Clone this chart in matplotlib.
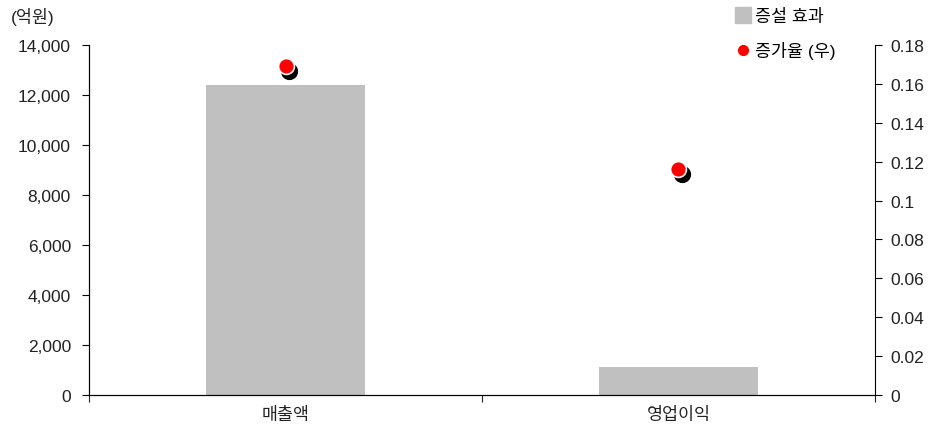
import numpy as np
import matplotlib.pyplot as plt
from matplotlib.lines import Line2D
from matplotlib.ticker import FuncFormatter

plt.rcParams['font.family'] = ['Liberation Sans', 'Noto Sans CJK KR', 'DejaVu Sans']

categories = ['매출액', '영업이익']
effect = [12400, 1130]          # 증설 효과 (억원)
growth = [0.169, 0.116]         # 증가율 (우)

fig = plt.figure(figsize=(9.39, 4.35), dpi=100)
ax = fig.add_axes([0.0948, 0.0897, 0.837, 0.8046])
x = np.arange(len(categories))

ax.bar(x, effect, width=0.405, color='#c0c0c0', zorder=2)
ax.set_xlim(-0.5, 1.5)
ax.set_ylim(0, 14000)
ax.set_yticks(np.arange(0, 14001, 2000))
ax.yaxis.set_major_formatter(FuncFormatter(lambda v, p: f'{int(v):,}'))
ax.set_xticks([-0.5, 0.5, 1.5])
ax.set_xticklabels([])
ax.set_xticks(x, minor=True)
ax.set_xticklabels(categories, minor=True)
ax.tick_params(axis='x', which='minor', length=0, pad=8, labelsize=12.5, colors='#222222')
ax.tick_params(axis='x', which='major', length=5, direction='out', color='#222222')
ax.tick_params(axis='y', length=5, direction='out', labelsize=12.5, labelcolor='#222222', pad=8)
ax.spines['top'].set_visible(False)
ax.spines['right'].set_visible(False)

ax2 = ax.twinx()
ax2.set_ylim(0, 0.18)
ax2.set_yticks(np.arange(0, 0.181, 0.02))
ax2.yaxis.set_major_formatter(FuncFormatter(lambda v, p: '0' if v == 0 else f'{v:.2f}'.rstrip('0')))
ax2.tick_params(axis='y', length=5, direction='out', labelsize=12.5, labelcolor='#222222', pad=6)
ax2.spines['top'].set_visible(False)

# black shadow, then red dot on top
ax2.scatter(x + 0.01, np.array(growth) - 0.0025, s=130, color='black', zorder=3)
ax2.scatter(x, growth, s=130, color='red', edgecolor='white', linewidth=1.2, zorder=4)

fig.text(0.012, 0.96, '(억원)', fontsize=12.5, color='#222222', va='center')

handles = [
    Line2D([], [], marker='s', linestyle='', color='#c0c0c0', markersize=11),
    Line2D([], [], marker='o', linestyle='', color='red', markersize=7),
]
fig.legend(handles, ['증설 효과', '증가율 (우)'], loc='upper left',
           bbox_to_anchor=(0.765, 1.015), frameon=False, fontsize=12.5,
           handletextpad=0.2, handlelength=1.0, labelspacing=1.0)

plt.savefig('out.png', dpi=100)
